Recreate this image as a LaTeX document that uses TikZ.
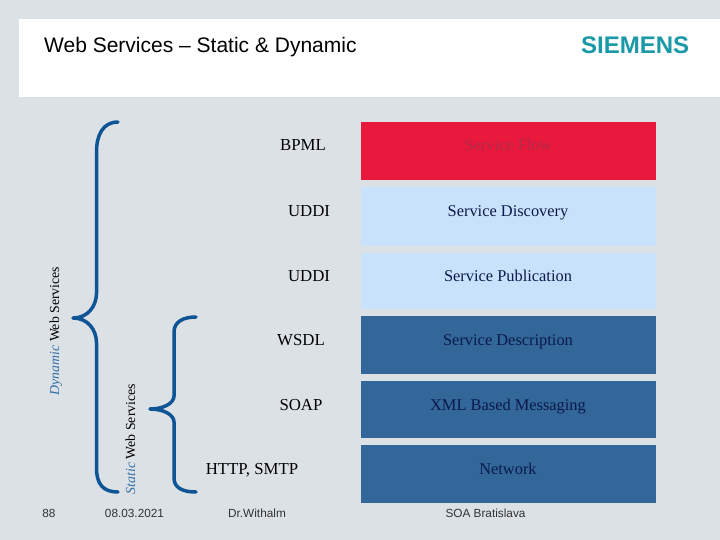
\documentclass[tikz,border=0pt]{standalone}
\usepackage{fontspec}
\setmainfont{Liberation Serif}
\setsansfont{Liberation Sans}
\usetikzlibrary{calc}
\definecolor{paper}{HTML}{DCE1E5}
\definecolor{flowred}{HTML}{E8193C}
\definecolor{flowtext}{HTML}{B32A48}
\definecolor{lightlayer}{HTML}{C8E2FC}
\definecolor{darklayer}{HTML}{336699}
\definecolor{darktext}{HTML}{0A1A4A}
\definecolor{bracecol}{HTML}{0F5596}
\definecolor{logoteal}{HTML}{1A9AA8}
\begin{document}
\begin{tikzpicture}[
  x=1pt,y=-1pt,
  layer/.style={minimum width=295pt,minimum height=#1,inner sep=0pt},
  layertext/.style={font=\fontsize{16.4}{18}\selectfont,text=darktext,inner sep=0pt,anchor=base},
  proto/.style={font=\fontsize{16.8}{18}\selectfont,text=black,inner sep=0pt,anchor=base},
  foot/.style={font=\sffamily\fontsize{11.8}{13}\selectfont,text=black!80,inner sep=0pt,anchor=base},
  side/.style={font=\fontsize{13.8}{15}\selectfont,rotate=90,inner sep=0pt,anchor=base},
  brace/.style={draw=bracecol,line width=3.5pt,line cap=round,line join=round}
]
\fill[paper] (0,0) rectangle (720,540);
\useasboundingbox (0,0) rectangle (720,540);
\fill[white] (19,19) rectangle (720,97);
\node[font=\sffamily\fontsize{21}{24}\selectfont,anchor=base west,inner sep=0pt] (title) at (44,53) {Web Services -- Static \& Dynamic};
\node[font=\sffamily\bfseries\fontsize{24}{26}\selectfont,text=logoteal,anchor=base west,inner sep=0pt] (logo) at (581,54) {SIEMENS};
% layers
\node[layer=58pt,fill=flowred] (flow) at (508.5,151) {};
\node[layer=58pt,fill=lightlayer] (discovery) at (508.5,216.5) {};
\node[layer=56pt,fill=lightlayer] (publication) at (508.5,281) {};
\node[layer=58pt,fill=darklayer] (description) at (508.5,345) {};
\node[layer=57pt,fill=darklayer] (messaging) at (508.5,409.5) {};
\node[layer=58pt,fill=darklayer] (network) at (508.5,474) {};
\node[layertext,text=flowtext] (flowlab) at (508,151) {Service Flow};
\node[layertext] (discoverylab) at (508,216) {Service Discovery};
\node[layertext] (publicationlab) at (508,281) {Service Publication};
\node[layertext] (descriptionlab) at (508,345) {Service Description};
\node[layertext] (messaginglab) at (508,410) {XML Based Messaging};
\node[layertext] (networklab) at (508,474) {Network};
% protocols
\node[proto] (bpml) at (303,151) {BPML};
\node[proto] (uddione) at (309,216) {UDDI};
\node[proto] (uddione2) at (309,281) {UDDI};
\node[proto] (wsdl) at (301,345) {WSDL};
\node[proto] (soap) at (301,410) {SOAP};
\node[proto] (http) at (252,474) {HTTP, SMTP};
% braces
\draw[brace] (118,122) .. controls (103,122) and (96.5,135) .. (96.5,152)
  -- (96.5,293) .. controls (96.5,306) and (88,318) .. (73,318)
  .. controls (88,318) and (96.5,330) .. (96.5,343)
  -- (96.5,468) .. controls (96.5,484) and (103,492) .. (118,492);
\draw[brace] (196,317) .. controls (183,317) and (174,322) .. (174,332)
  -- (174,396) .. controls (174,403) and (164,409) .. (150,409)
  .. controls (164,409) and (174,415) .. (174,422)
  -- (174,478) .. controls (174,488) and (183,492) .. (196,492);
\node[side] (dynlab) at (59,331) {\textcolor{bracecol!85}{\itshape Dynamic} Web Services};
\node[side] (statlab) at (135,439) {\textcolor{bracecol!85}{\itshape Static} Web Services};
% footer
\node[foot] (page) at (49,517.5) {88};
\node[foot] (date) at (134.5,517.5) {08.03.2021};
\node[foot] (author) at (257,517.5) {Dr.Withalm};
\node[foot] (place) at (485.5,517.5) {SOA Bratislava};
\end{tikzpicture}
\end{document}
